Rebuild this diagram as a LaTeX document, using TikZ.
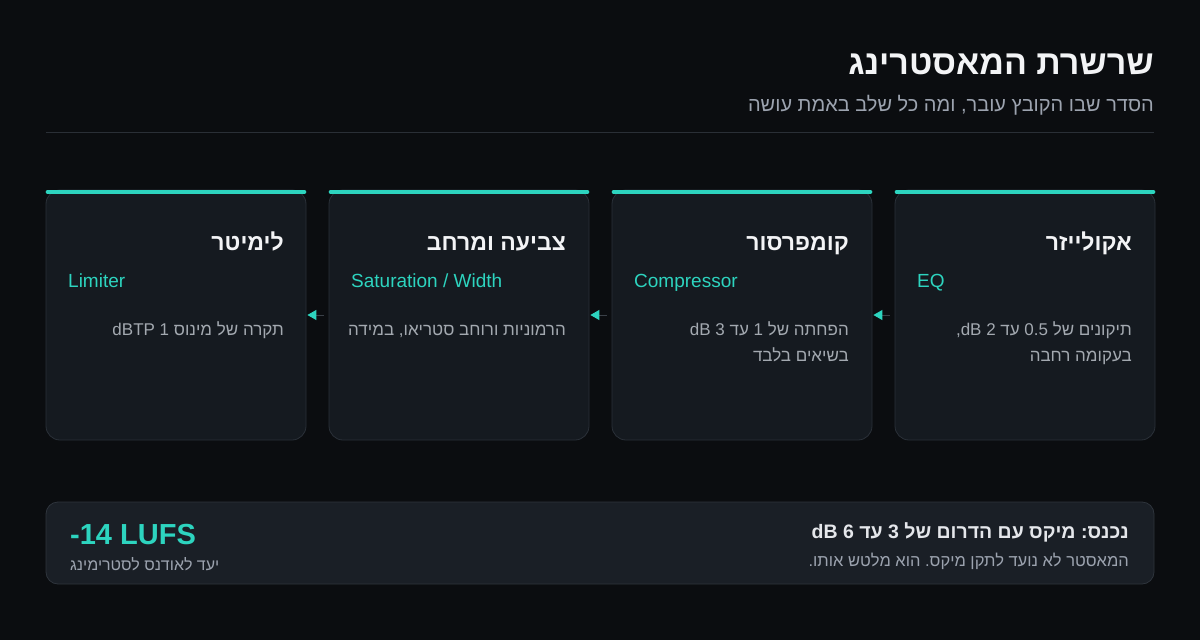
\documentclass[tikz,border=0pt]{standalone}
\usepackage{fontspec}
\setmainfont{Liberation Sans}
\newfontfamily\he[Script=Hebrew]{Liberation Sans}
\usetikzlibrary{arrows.meta}
\TeXXeTstate=1
\frenchspacing
\newcommand\heb[1]{{\he\beginR#1\endR}}
\newcommand\fs[1]{\fontsize{#1}{#1}\selectfont}
\definecolor{bg}{HTML}{0B0D10}
\definecolor{cardfill}{HTML}{151A20}
\definecolor{cardline}{HTML}{2A3038}
\definecolor{teal}{HTML}{2DD4BF}
\definecolor{titlec}{HTML}{F3F4F6}
\definecolor{subc}{HTML}{9CA3AF}
\definecolor{bodyc}{HTML}{A3A9B0}
\definecolor{notefill}{HTML}{1A1F26}
\definecolor{noteline}{HTML}{2E343C}
\definecolor{arrline}{HTML}{3A4048}
\definecolor{rulec}{HTML}{2A2F36}
\definecolor{strongc}{HTML}{E5E7EB}
\tikzset{
  card/.style={draw=cardline, fill=cardfill, rounded corners=14pt, minimum width=260pt, minimum height=250pt, inner sep=0pt, line width=0.8pt},
  bar/.style={draw=teal, line width=4.5pt, line cap=round},
  ctitle/.style={anchor=base east, inner sep=0pt, text=titlec, font=\fs{23}\bfseries},
  cen/.style={anchor=base west, inner sep=0pt, text=teal, font=\fs{19}},
  cbody/.style={anchor=base east, inner sep=0pt, text=bodyc, font=\fs{17}},
  arr/.style={draw=arrline, line width=1pt, -{Triangle[length=9pt,width=10pt,color=teal]}},
}
\begin{document}
\begin{tikzpicture}[x=1pt,y=-1pt]
\useasboundingbox (0,0) rectangle (1200,640);
\fill[bg] (0,0) rectangle (1200,640);
% header
\node[anchor=base east, inner sep=0pt, text=titlec, font=\fs{34}\bfseries] (title) at (1154,74) {\heb{שרשרת המאסטרינג}};
\node[anchor=base east, inner sep=0pt, text=subc, font=\fs{20}] (subtitle) at (1154,111) {\heb{הסדר שבו הקובץ עובר, ומה כל שלב באמת עושה}};
\coordinate (rl) at (46,132);
\coordinate (rr) at (1154,132);
\draw[rulec, line width=1pt] (rl) -- (rr);
% cards
\node[card] (c1) at (1025,315) {};
\node[card] (c2) at (742,315) {};
\node[card] (c3) at (459,315) {};
\node[card] (c4) at (176,315) {};
\foreach \c in {c1,c2,c3,c4}{
  \draw[bar] ([xshift=2.3pt,yshift=-2.3pt]\c.north west) -- ([xshift=-2.3pt,yshift=-2.3pt]\c.north east);
}
% card 1
\node[ctitle] (t1) at (1132,250) {\heb{אקולייזר}};
\node[cen] (e1) at (917,287) {EQ};
\node[cbody] (b1a) at (1132,335) {\heb{תיקונים של 0.5 עד 2 dB\kern0pt,}};
\node[cbody] (b1b) at (1132,361) {\heb{בעקומה רחבה}};
% card 2
\node[ctitle] (t2) at (849,250) {\heb{קומפרסור}};
\node[cen] (e2) at (634,287) {Compressor};
\node[cbody] (b2a) at (849,335) {\heb{הפחתה של 1 עד 3 dB}};
\node[cbody] (b2b) at (849,361) {\heb{בשיאים בלבד}};
% card 3
\node[ctitle] (t3) at (566,250) {\heb{צביעה ומרחב}};
\node[cen] (e3) at (351,287) {Saturation / Width};
\node[cbody] (b3a) at (566,335) {\heb{הרמוניות ורוחב סטריאו, במידה}};
% card 4
\node[ctitle] (t4) at (284,250) {\heb{לימיטר}};
\node[cen] (e4) at (68,287) {Limiter};
\node[cbody] (b4a) at (284,335) {\heb{תקרה של מינוס 1 dBTP}};
% arrows
\draw[arr] ([xshift=-5pt]c1.west) -- ([xshift=1pt]c2.east);
\draw[arr] ([xshift=-5pt]c2.west) -- ([xshift=1pt]c3.east);
\draw[arr] ([xshift=-5pt]c3.west) -- ([xshift=1pt]c4.east);
% note
\node[draw=noteline, fill=notefill, rounded corners=12pt, minimum width=1108pt, minimum height=82pt, inner sep=0pt, line width=0.8pt] (note) at (600,543) {};
\node[anchor=base west, inner sep=0pt, text=teal, font=\fs{29}\bfseries] (lufs) at (70,544) {-14 LUFS};
\node[anchor=base west, inner sep=0pt, text=subc, font=\fs{16}] (lufsl) at (70,570) {\heb{יעד לאודנס לסטרימינג}};
\node[anchor=base east, inner sep=0pt, text=strongc, font=\fs{19.5}\bfseries] (in1) at (1129,538) {\heb{נכנס: מיקס עם הדרום של 3 עד 6 dB}};
\node[anchor=base east, inner sep=0pt, text=subc, font=\fs{16.5}] (in2) at (1129,566) {\heb{המאסטר לא נועד לתקן מיקס. הוא מלטש אותו.}};
\end{tikzpicture}
\end{document}
